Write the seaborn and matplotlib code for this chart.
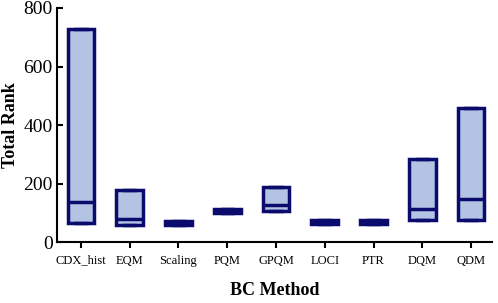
import pandas as pd
import seaborn as sns
import matplotlib.pyplot as plt

# Range (min-max) and median of total rank for each bias correction method
methods = ['CDX_hist', 'EQM', 'Scaling', 'PQM', 'GPQM', 'LOCI', 'PTR', 'DQM', 'QDM']
rank_min = [66, 57, 58, 98, 107, 62, 62, 76, 74]
rank_med = [138, 80, 65, 106, 128, 68, 67, 112, 148]
rank_max = [728, 178, 72, 113, 187, 75, 74, 284, 458]

# long format: min and max twice so the box spans min..max and the median sits inside
rows = []
for m, lo, md, hi in zip(methods, rank_min, rank_med, rank_max):
    for v in [lo, lo, md, hi, hi]:
        rows.append({'Method': m, 'Rank': v})
data = pd.DataFrame(rows)

sns.set_style('ticks')
plt.rcParams['font.family'] = ['Liberation Serif', 'DejaVu Serif']
for k in ['text.color', 'axes.labelcolor', 'xtick.color', 'ytick.color', 'axes.edgecolor']:
    plt.rcParams[k] = 'black'

fig = plt.figure(figsize=(4.98, 3.03), dpi=100)
ax = fig.add_axes([0.1145, 0.2013, 0.8735, 0.7723])

navy = '#0b0b6e'
lw = 2.5
sns.boxplot(data=data, x='Method', y='Rank', order=methods, ax=ax, width=0.55,
            color='#b3c3e3', linewidth=lw, whis=1.5, showfliers=False,
            boxprops=dict(facecolor='#b3c3e3', edgecolor=navy, linewidth=lw),
            medianprops=dict(color=navy, linewidth=lw),
            whiskerprops=dict(color=navy, linewidth=lw),
            capprops=dict(color=navy, linewidth=lw))

ax.set_xlim(-0.49, 8.43)
ax.set_ylim(0, 800)
ax.set_yticks([0, 200, 400, 600, 800])
ax.tick_params(axis='y', direction='in', labelsize=14, length=4, width=1.5, pad=3)
ax.tick_params(axis='x', direction='out', labelsize=9, length=4, width=1.5, pad=5)
for s in ['left', 'bottom']:
    ax.spines[s].set_linewidth(1.5)
sns.despine(ax=ax)

ax.set_xlabel('BC Method', fontsize=13, fontweight='bold', labelpad=11)
ax.set_ylabel('Total Rank', fontsize=13, fontweight='bold', labelpad=3)

fig.savefig('out.png', dpi=100)
